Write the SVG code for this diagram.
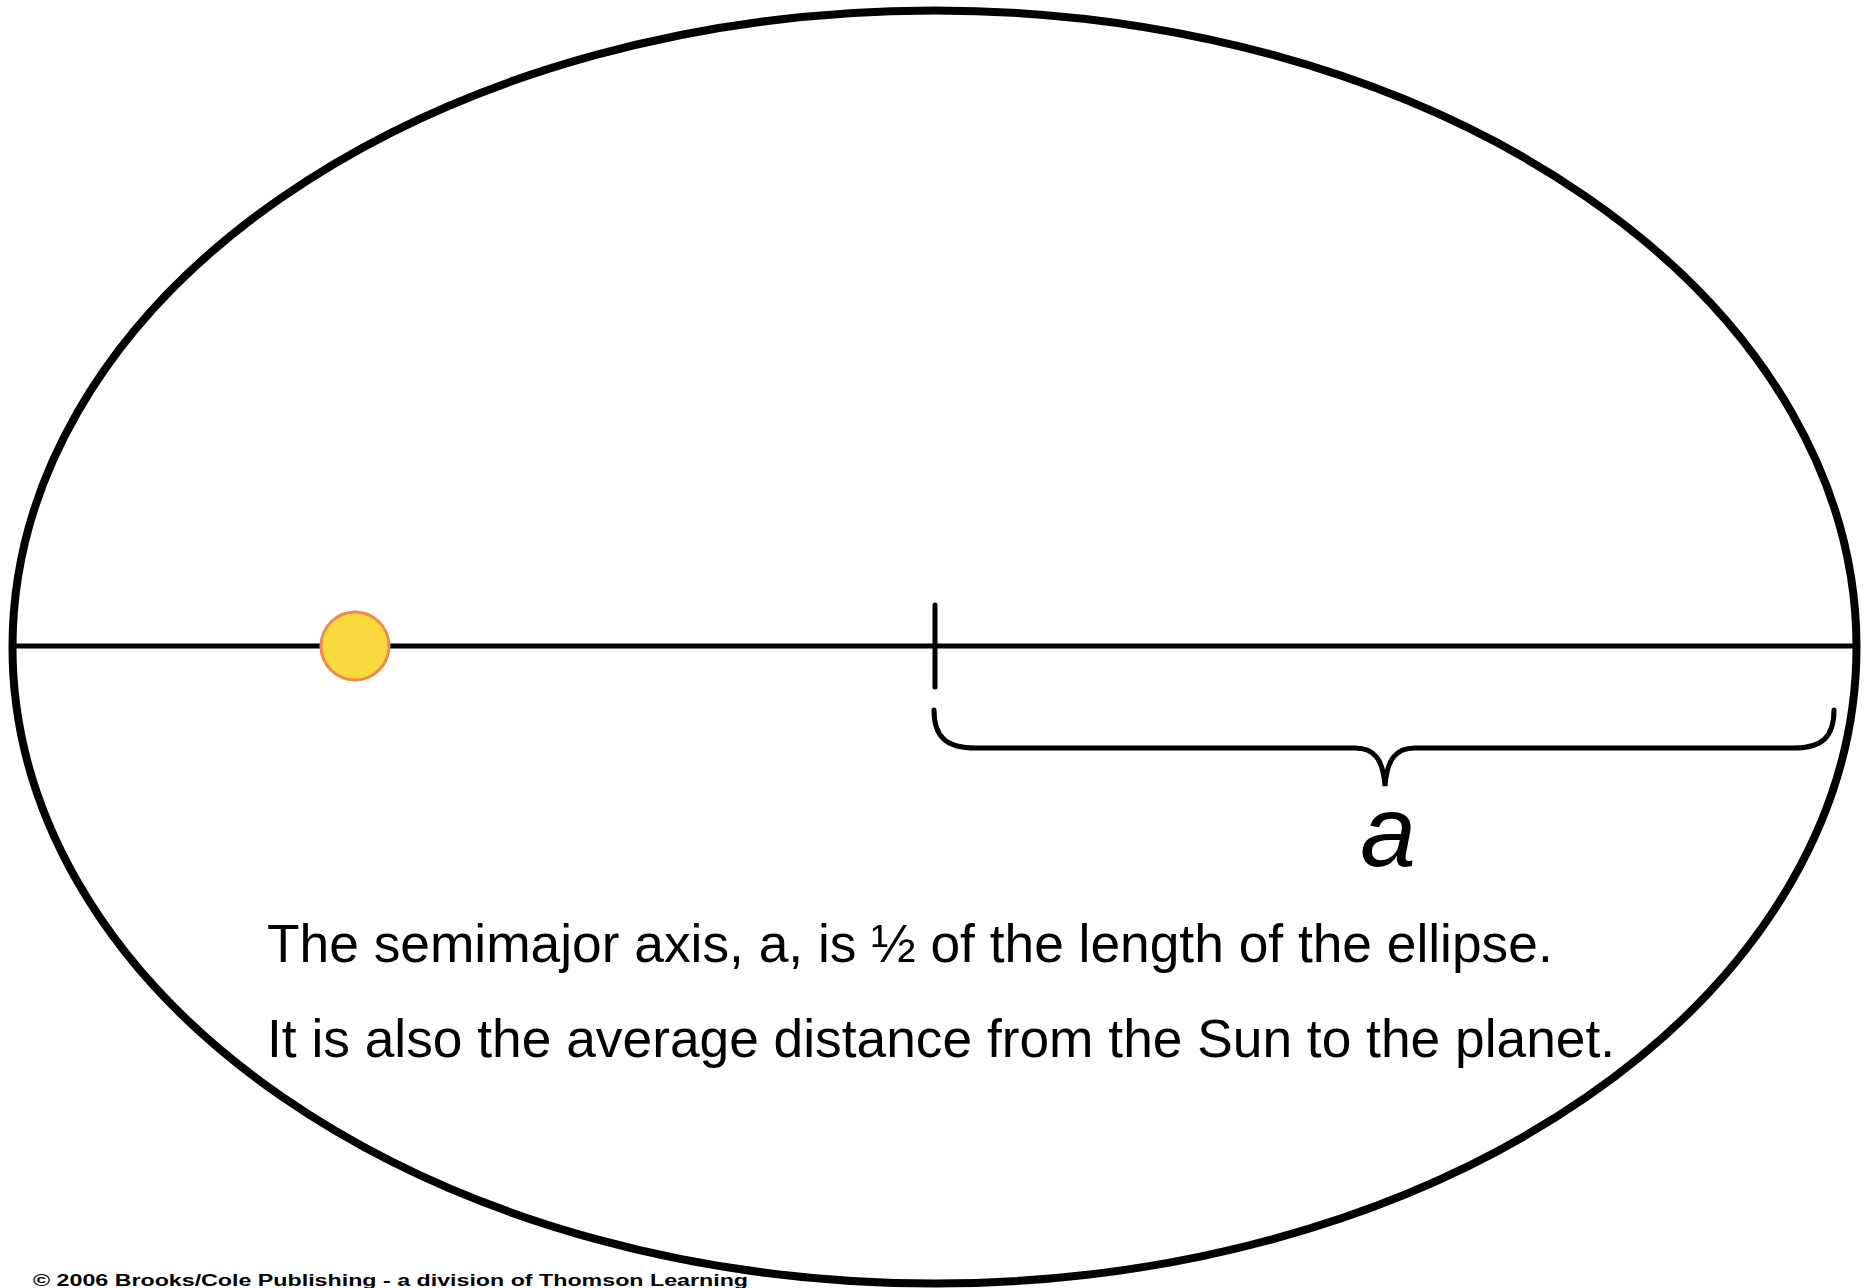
<svg xmlns="http://www.w3.org/2000/svg" width="1867" height="1288" viewBox="0 0 1867 1288">
<style>
.ln{fill:none;stroke:#000;stroke-linecap:round}
.txt{font-family:"Liberation Sans",Arial,sans-serif;fill:#000}
</style>
<rect width="1867" height="1288" fill="#fff"/>
<g id="orbit">
<ellipse cx="934.5" cy="647" rx="922" ry="636.5" class="ln" stroke-width="8"/>
</g>
<g id="connectors">
<line x1="12" y1="646" x2="1857" y2="646" class="ln" stroke-width="5"/>
<line x1="935" y1="605" x2="935" y2="687" class="ln" stroke-width="5"/>
<path d="M934,710 C934,737 946,748 976,748 L1355,748 C1375,748 1383,760 1385,786 C1387,760 1395,748 1415,748 L1794,748 C1822,748 1834,737 1834,710" class="ln" stroke-width="5"/>
</g>
<g id="sun">
<circle cx="355" cy="646" r="34" fill="#FAD93C" stroke="#EE8A50" stroke-width="3"/>
</g>
<g id="label-a">
<text x="1388" y="866" class="txt" font-size="100" font-style="italic" text-anchor="middle">a</text>
</g>
<g id="caption">
<text x="267" y="962" class="txt" font-size="53.3">The semimajor axis, a, is ½ of the length of the ellipse.</text>
<text x="267" y="1057" class="txt" font-size="53.3">It is also the average distance from the Sun to the planet.</text>
</g>
<g id="credit">
<text x="33" y="1286" class="txt" font-size="16" font-weight="bold" textLength="715" lengthAdjust="spacingAndGlyphs">© 2006 Brooks/Cole Publishing - a division of Thomson Learning</text>
</g>
</svg>
